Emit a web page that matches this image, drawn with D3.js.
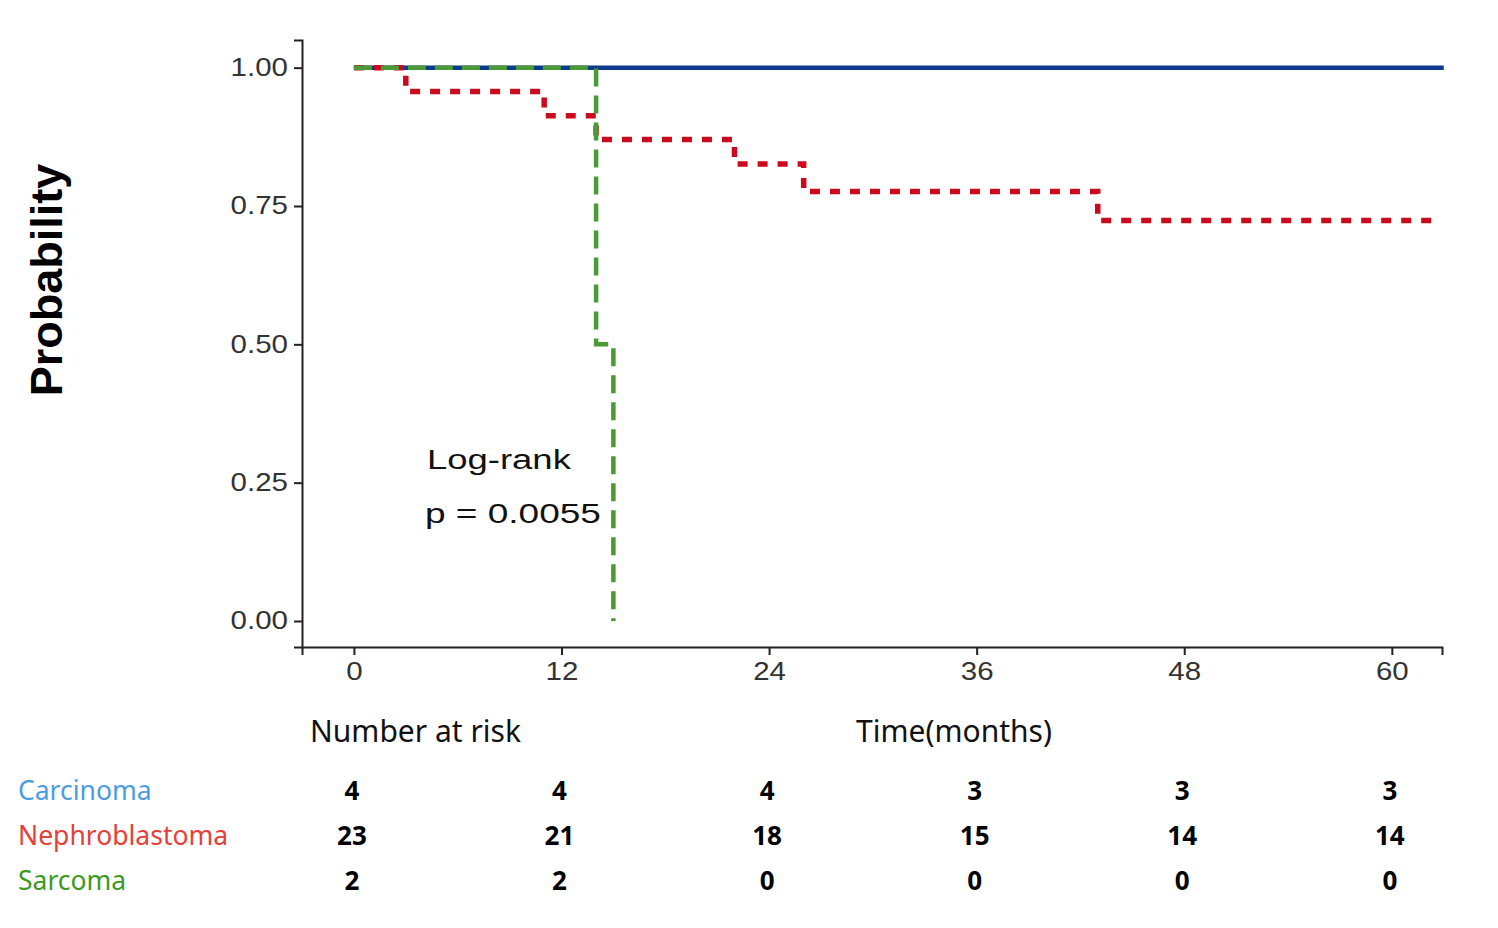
<!DOCTYPE html>
<html>
<head>
<meta charset="utf-8">
<script src="https://cdn.jsdelivr.net/npm/d3@7"></script>
<style>
  body { margin: 0; background: #fff; }
  text { font-family: "Noto Sans", sans-serif; }
</style>
</head>
<body>
<script>
// data
var groups = ["Carcinoma", "Nephroblastoma", "Sarcoma"];
var carcinomaTime = [0, 63];
var carcinomaSurv = [1, 1];
var nephroTime = [0, 3, 11, 14, 22, 26, 43, 62.8];
var nephroSurv = [1, 0.957, 0.913, 0.870, 0.826, 0.776, 0.724, 0.724];
var sarcomaTime = [0, 14, 15];
var sarcomaSurv = [1, 0.5, 0];
var xTicks = [0, 12, 24, 36, 48, 60];
var yTicks = [0, 0.25, 0.5, 0.75, 1];
var riskTimes = [0, 12, 24, 36, 48, 60];
var riskCarcinoma = [4, 4, 4, 3, 3, 3];
var riskNephro = [23, 21, 18, 15, 14, 14];
var riskSarcoma = [2, 2, 0, 0, 0, 0];

var w = 1498, h = 928;
var svg = d3.select("body").append("svg")
    .attr("width", w).attr("height", h);

// the original text is a bit wide, stretch glyphs sideways
function stretch(sel, f) {
  sel.each(function() {
    var len = this.getComputedTextLength();
    d3.select(this).attr("textLength", len * f)
      .attr("lengthAdjust", "spacingAndGlyphs");
  });
}

// plot area
var pLeft = 302, pRight = 1442, pTop = 40, pBottom = 647;
var x = d3.scaleLinear().domain([-3, 62.9]).range([pLeft, pRight]);
var y = d3.scaleLinear().domain([-0.047, 1.05]).range([pBottom, pTop]);

// axes
var xAxis = svg.append("g")
    .attr("transform", "translate(0," + pBottom + ")")
    .call(d3.axisBottom(x).tickValues(xTicks).tickSize(8).tickPadding(7));
var yAxis = svg.append("g")
    .attr("transform", "translate(" + pLeft + ",0)")
    .call(d3.axisLeft(y).tickValues(yTicks).tickSize(8).tickPadding(6)
      .tickFormat(d3.format(".2f")));
[xAxis, yAxis].forEach(function(a) {
  a.select(".domain").attr("stroke", "#222").attr("stroke-width", 2);
  a.selectAll(".tick line").attr("stroke", "#222").attr("stroke-width", 2);
  a.selectAll(".tick text").attr("fill", "#333")
    .style("font-size", "25px")
    .style("font-family", "Liberation Sans, Arial, sans-serif")
    .call(stretch, 1.18);
});

// curves
var line = d3.line()
    .x(function(d) { return x(d[0]); })
    .y(function(d) { return y(d[1]); })
    .curve(d3.curveStepAfter);

function pairs(t, s) {
  return t.map(function(v, i) { return [v, s[i]]; });
}

svg.append("path")
   .attr("d", line(pairs(carcinomaTime, carcinomaSurv)))
   .attr("fill", "none")
   .attr("stroke", "#0d3a8c")
   .attr("stroke-width", 4.5);

svg.append("path")
   .attr("d", line(pairs(nephroTime, nephroSurv)))
   .attr("fill", "none")
   .attr("stroke", "#cc0a1e")
   .attr("stroke-width", 5.5)
   .attr("stroke-dasharray", "10,10");

svg.append("path")
   .attr("d", line(pairs(sarcomaTime, sarcomaSurv)))
   .attr("fill", "none")
   .attr("stroke", "#4b9a35")
   .attr("stroke-width", 4.5)
   .attr("stroke-dasharray", "18,9");

// log-rank label
svg.append("text").text("Log-rank")
   .attr("x", 427).attr("y", 469)
   .style("font-family", "Liberation Sans, Arial, sans-serif")
   .style("font-size", "27px").attr("fill", "#111")
   .call(stretch, 1.35);
svg.append("text").text("p = 0.0055")
   .attr("x", 425).attr("y", 523)
   .style("font-family", "Liberation Sans, Arial, sans-serif")
   .style("font-size", "27px").attr("fill", "#111")
   .call(stretch, 1.37);

// y title
svg.append("text").text("Probability")
   .attr("transform", "translate(62,280) rotate(-90)")
   .attr("text-anchor", "middle")
   .style("font-family", "Liberation Sans, Arial, sans-serif")
   .style("font-weight", "bold")
   .style("font-size", "45px");

// x title + table header
svg.append("text").text("Number at risk")
   .attr("x", 310).attr("y", 742)
   .style("font-size", "30px").attr("fill", "#111");
svg.append("text").text("Time(months)")
   .attr("x", 954).attr("y", 742)
   .attr("text-anchor", "middle")
   .style("font-size", "30px").attr("fill", "#111");

// risk table
var labelColors = ["#4a9de0", "#e6403a", "#3c9a1c"];
var rows = [riskCarcinoma, riskNephro, riskSarcoma];
var rowY = [800, 845, 890];

svg.selectAll(".grp")
   .data(groups)
   .enter()
   .append("text")
   .text(function(d) { return d; })
   .attr("x", 18)
   .attr("y", function(d, i) { return rowY[i]; })
   .attr("fill", function(d, i) { return labelColors[i]; })
   .style("font-size", "26.5px");

rows.forEach(function(r, j) {
  svg.selectAll(".risk" + j)
     .data(r)
     .enter()
     .append("text")
     .text(function(d) { return d; })
     .attr("x", function(d, i) { return x(riskTimes[i]) - 2; })
     .attr("y", rowY[j])
     .attr("text-anchor", "middle")
     .style("font-weight", "bold")
     .style("font-size", "26px");
});
</script>
</body>
</html>
